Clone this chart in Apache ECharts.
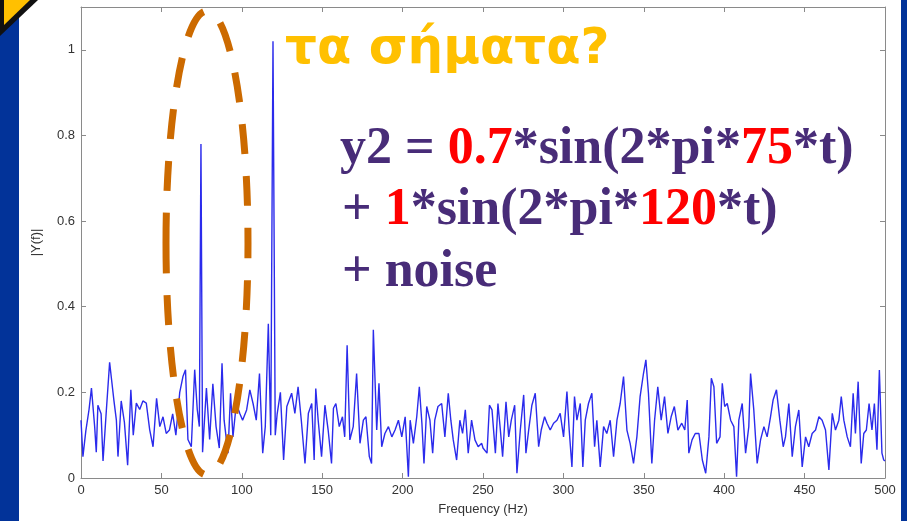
<!DOCTYPE html>
<html>
<head>
<meta charset="utf-8">
<script src="https://cdn.jsdelivr.net/npm/echarts@6/dist/echarts.min.js"></script>
<style>
    html, body { margin: 0; padding: 0; background: #fff; }
    #chart { width: 907px; height: 521px; }
</style>
</head>
<body>
<div id="chart"></div>
<script>
// frequencies (Hz) and |Y(f)|
var freqs = [
    0, 1.2, 3, 5, 6.5, 8.5, 9.5, 10.5, 12.5, 13.7, 15.8, 17.8, 19, 20.5, 22, 23, 25, 27, 29, 31,
    32.5, 34.4, 36.5, 38.5, 40.6, 42.7, 44.8, 47, 49, 51, 53, 55, 57, 59, 61.4, 63.4, 65, 66.5, 68.6, 70.7,
    72.3, 73.6, 74.6, 75.6, 78, 80, 82, 84, 86, 87.7, 89, 91.4, 93, 94.5, 96.6, 98.7, 100.5, 103, 105, 107,
    109, 111, 113, 114.6, 116.5, 118, 119.4, 120.8, 122, 124, 126, 128, 131, 133, 135, 137, 139.3, 141.4, 143.5, 145,
    146, 147.5, 149.6, 151.7, 153.7, 155.8, 157, 158.5, 160.6, 162.6, 164, 165.5, 167.2, 169.3, 171.4, 173.5, 175.6, 177.2, 179.3, 180.7,
    181.8, 183.9, 185.3, 187, 189, 191.2, 193.3, 195.3, 197.4, 199.5, 201.6, 203.6, 204.7, 206.7, 208.8, 210.4, 212, 213.3, 215, 217,
    218.7, 220, 222, 224.3, 226.3, 228.4, 230, 231.5, 233.6, 235.6, 237.3, 239, 240.8, 242.9, 245, 247, 249.2, 250, 252.5, 254,
    255.6, 257.7, 259.3, 260.8, 262.2, 264.3, 266, 267.6, 269.7, 271.1, 273.2, 275.3, 276.7, 278.4, 280.4, 282.5, 284.6, 286.2, 288.3, 289.8,
    291.8, 293.9, 296, 298, 300.1, 302.2, 303.6, 305.3, 306.9, 308.4, 310.5, 312.1, 313.6, 315.6, 317.7, 319.4, 320.8, 322.9, 325, 327,
    329.1, 331.2, 333.3, 335.3, 337.4, 339.5, 341.5, 343.6, 345.7, 347.7, 349.8, 351.3, 352.9, 355, 356.7, 358.7, 360.8, 362.9, 365, 367,
    369, 371.2, 373.6, 375.5, 377, 378, 380, 382, 384.3, 386.4, 388.5, 390.5, 392, 393.6, 395.3, 397.4, 398.8, 400.3, 401.9, 404,
    406, 407.7, 409.1, 411.2, 413.3, 415.3, 416.4, 418.4, 420.5, 422.6, 424.7, 426.7, 428.8, 430.4, 432.5, 434.6, 436.7, 438.1, 440.2, 442.3,
    444.3, 446.4, 448.5, 450.6, 452.6, 454.7, 456.8, 458.9, 460.9, 463, 465.1, 467.2, 469.2, 471.3, 472.8, 474.4, 476.5, 478.5, 480.2, 481.6,
    483.3, 485.2, 486.8, 488.4, 490.1, 491.9, 493.4, 495, 496.5, 498.1, 499.2, 500
]
var amps = [
    0.135, 0.05, 0.11, 0.16, 0.21, 0.12, 0.06, 0.17, 0.15, 0.04, 0.16, 0.27, 0.23, 0.18, 0.135, 0.05, 0.18, 0.13, 0.03, 0.206,
    0.1, 0.175, 0.16, 0.18, 0.175, 0.113, 0.073, 0.186, 0.12, 0.143, 0.104, 0.112, 0.15, 0.1, 0.2, 0.237, 0.253, 0.09, 0.073, 0.253,
    0.16, 0.12, 0.78, 0.06, 0.21, 0.09, 0.22, 0.12, 0.07, 0.268, 0.135, 0.058, 0.198, 0.096, 0.174, 0.151, 0.135, 0.159, 0.206, 0.174,
    0.135, 0.244, 0.058, 0.12, 0.36, 0.1, 1.02, 0.1, 0.15, 0.2, 0.042, 0.167, 0.198, 0.151, 0.213, 0.135, 0.034, 0.151, 0.174, 0.042,
    0.209, 0.135, 0.05, 0.17, 0.112, 0.034, 0.163, 0.174, 0.12, 0.143, 0.096, 0.31, 0.089, 0.12, 0.244, 0.081, 0.135, 0.143, 0.05, 0.034,
    0.346, 0.112, 0.221, 0.073, 0.104, 0.12, 0.096, 0.112, 0.135, 0.096, 0.143, 0.003, 0.135, 0.081, 0.143, 0.213, 0.128, 0.034, 0.167, 0.135,
    0.058, 0.135, 0.167, 0.174, 0.096, 0.198, 0.135, 0.089, 0.042, 0.135, 0.104, 0.159, 0.058, 0.135, 0.089, 0.073, 0.081, 0.07, 0.058, 0.17,
    0.159, 0.058, 0.174, 0.112, 0.05, 0.178, 0.096, 0.135, 0.17, 0.011, 0.112, 0.194, 0.058, 0.112, 0.17, 0.198, 0.073, 0.112, 0.143, 0.128,
    0.112, 0.128, 0.135, 0.151, 0.096, 0.202, 0.112, 0.026, 0.19, 0.135, 0.174, 0.026, 0.135, 0.174, 0.198, 0.073, 0.135, 0.026, 0.12, 0.104,
    0.135, 0.05, 0.135, 0.174, 0.237, 0.112, 0.081, 0.034, 0.096, 0.19, 0.244, 0.276, 0.198, 0.034, 0.135, 0.213, 0.135, 0.19, 0.104, 0.143,
    0.167, 0.112, 0.128, 0.112, 0.182, 0.058, 0.089, 0.104, 0.104, 0.042, 0.011, 0.096, 0.233, 0.213, 0.081, 0.096, 0.221, 0.167, 0.174, 0.135,
    0.12, 0.003, 0.135, 0.174, 0.058, 0.12, 0.244, 0.159, 0.034, 0.089, 0.12, 0.096, 0.143, 0.182, 0.206, 0.135, 0.073, 0.096, 0.174, 0.05,
    0.12, 0.159, 0.026, 0.096, 0.073, 0.104, 0.112, 0.143, 0.135, 0.112, 0.019, 0.151, 0.112, 0.135, 0.19, 0.135, 0.096, 0.073, 0.198, 0.104,
    0.225, 0.034, 0.104, 0.112, 0.174, 0.112, 0.174, 0.066, 0.252, 0.058, 0.042, 0.04
]
var xTicks = { min: 0, max: 500, step: 50 }
var yTicks = { min: 0, max: 1.1, step: 0.2 }

var purple = '#482c78'
var red = '#ff0000'
var gold = '#ffc000'
var axisFont = 'Liberation Sans, Arial, sans-serif'
var formulaFont = 'bold 52px "Liberation Serif", serif'

var seriesData = freqs.map(function (f, i) {
    return [f, amps[i]]
})

function boxAxis(t, extra) {
    var a = {
        type: 'value',
        min: t.min,
        max: t.max,
        interval: t.step,
        splitLine: { show: false },
        axisLine: { show: true, onZero: false, lineStyle: { color: '#8a8a8a', width: 1 } },
        axisTick: { show: true, inside: true, length: 5, lineStyle: { color: '#8a8a8a' } },
        axisLabel: { show: false }
    }
    for (var k in extra) a[k] = extra[k]
    return a
}

var labelStyle = { show: true, color: '#333', fontSize: 13, fontFamily: axisFont }
var nameStyle = { color: '#333', fontSize: 13, fontFamily: axisFont }

var dom = echarts.init(document.getElementById('chart'), null, { renderer: 'canvas' })
dom.setOption({
    animation: false,
    backgroundColor: '#ffffff',
    grid: { left: 81, right: 22, top: 7, bottom: 43 },
    xAxis: [
        boxAxis(xTicks, {
            position: 'bottom',
            axisLabel: Object.assign({ margin: 6 }, labelStyle),
            name: 'Frequency (Hz)',
            nameLocation: 'middle',
            nameGap: 25,
            nameTextStyle: nameStyle
        }),
        boxAxis(xTicks, { position: 'top' })
    ],
    yAxis: [
        boxAxis(yTicks, {
            position: 'left',
            axisLabel: Object.assign({
                margin: 6,
                showMaxLabel: false,
                formatter: function (v) {
                    return v > 1.05 ? '' : String(Math.round(v * 10) / 10)
                }
            }, labelStyle),
            name: '|Y(f)|',
            nameLocation: 'middle',
            nameGap: 38,
            nameTextStyle: nameStyle
        }),
        boxAxis(yTicks, { position: 'right' })
    ],
    series: [
        {
            type: 'line',
            data: seriesData,
            showSymbol: false,
            lineStyle: { color: '#2b2bec', width: 1.4 },
            z: 2
        }
    ],
    graphic: [
        // slide frame: blue bands and the yellow corner
        { type: 'rect', shape: { x: 0, y: 0, width: 19, height: 521 }, style: { fill: '#023399' }, z: 10 },
        { type: 'rect', shape: { x: 901, y: 0, width: 6, height: 521 }, style: { fill: '#023399' }, z: 10 },
        { type: 'polygon', shape: { points: [[0, 0], [38, 0], [0, 36]] }, style: { fill: '#111' }, z: 11 },
        { type: 'polygon', shape: { points: [[4, 0], [30, 0], [4, 25]] }, style: { fill: gold }, z: 12 },
        // dashed ellipse around the 75 Hz peak
        {
            type: 'ellipse',
            shape: { cx: 207, cy: 243, rx: 41, ry: 232 },
            style: { fill: null, stroke: '#cc6a00', lineWidth: 7, lineDash: [30, 22] },
            z: 20
        },
        {
            type: 'text',
            x: 285,
            y: 50,
            style: {
                text: 'τα σήματα?',
                fill: gold,
                font: 'bold 50px "DejaVu Sans", sans-serif',
                verticalAlign: 'middle'
            },
            z: 20
        },
        {
            type: 'text',
            x: 340,
            y: 150,
            style: {
                text: '{p|y2 = }{r|0.7}{p|*sin(2*pi*}{r|75}{p|*t)}',
                verticalAlign: 'middle',
                rich: {
                    p: { fill: purple, font: formulaFont },
                    r: { fill: red, font: formulaFont }
                }
            },
            z: 20
        },
        {
            type: 'text',
            x: 342,
            y: 211,
            style: {
                text: '{p|+ }{r|1}{p|*sin(2*pi*}{r|120}{p|*t)}',
                verticalAlign: 'middle',
                rich: {
                    p: { fill: purple, font: formulaFont },
                    r: { fill: red, font: formulaFont }
                }
            },
            z: 20
        },
        {
            type: 'text',
            x: 342,
            y: 273,
            style: {
                text: '+ noise',
                fill: purple,
                font: formulaFont,
                verticalAlign: 'middle'
            },
            z: 20
        }
    ]
})
</script>
</body>
</html>
